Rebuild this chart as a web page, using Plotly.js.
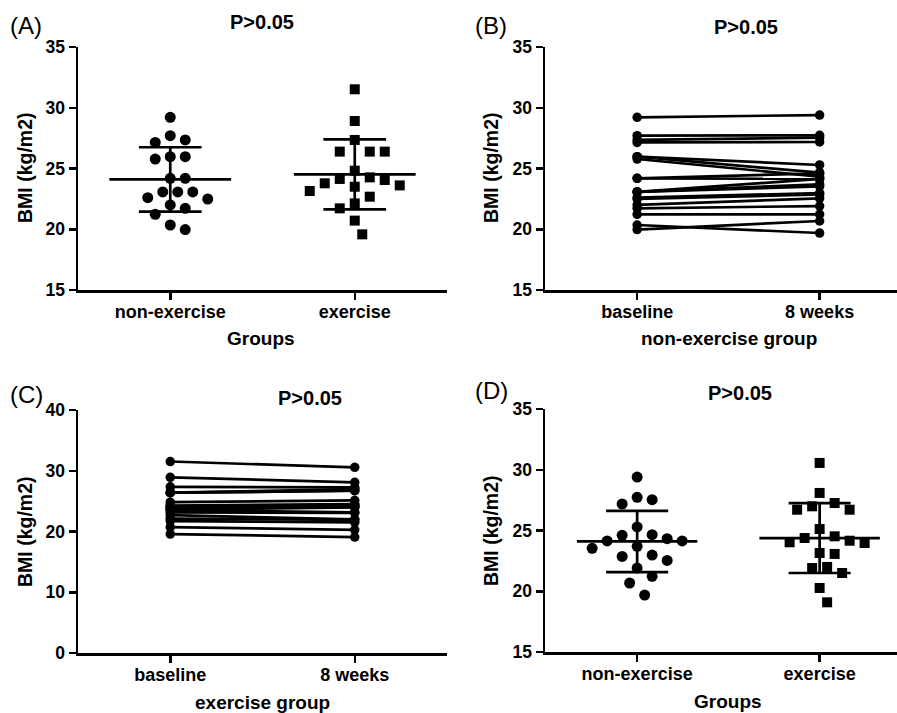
<!DOCTYPE html>
<html><head><meta charset="utf-8">
<script src="https://cdn.plot.ly/plotly-3.0.1.min.js"></script>
<style>html,body{margin:0;padding:0;background:#fff}</style>
</head><body><div id="chart" style="width:897px;height:713px"></div>
<script>
// ---------- data ----------
const groups = ["non-exercise", "exercise"];
const timepoints = ["baseline", "8 weeks"];
// non-exercise group BMI (kg/m2); pairs share an index
const nonExBaseline = [29.21, 27.70, 27.35, 27.15, 25.97, 25.97, 25.78, 24.19, 24.19, 23.07, 23.07, 23.07, 22.60, 22.49, 22.00, 21.72, 21.23, 20.35, 19.97];
const nonEx8w       = [29.40, 27.73, 27.54, 27.18, 25.29, 24.66, 24.33, 24.60, 24.14, 24.14, 23.70, 23.53, 22.98, 22.87, 22.54, 21.91, 21.23, 19.69, 20.68];
// exercise group BMI (kg/m2)
const exBaseline = [31.52, 28.91, 27.35, 26.39, 26.39, 26.39, 24.82, 24.27, 24.14, 24.05, 23.78, 23.61, 23.50, 23.15, 22.68, 22.13, 21.72, 20.71, 19.58];
const ex8w       = [30.56, 28.09, 27.26, 26.99, 26.71, 26.71, 25.12, 24.52, 24.38, 24.16, 24.03, 23.97, 23.15, 23.07, 22.00, 21.91, 21.50, 20.27, 19.09];
// mean and SD bars as drawn
const meanBaseline = [24.10, 24.52];
const sdBaseline   = [2.65, 2.88];
const mean8w = [24.10, 24.38];
const sd8w   = [2.52, 2.88];
const pLabel = "P>0.05";

// ---------- layout geometry ----------
const W = 897, H = 713;
const FONT = "Liberation Sans, Arial, Helvetica, sans-serif";
const px2x = p => p / W, px2y = p => 1 - p / H;
const dom = {
  A: {x: [78 / W, 447 / W], y: [px2y(290), px2y(47)], xr: [-0.5, 1.5], yr: [15, 35]},
  B: {x: [545 / W, 1], y: [px2y(290), px2y(47)], xr: [-0.505, 1.424], yr: [15, 35]},
  C: {x: [78 / W, 447 / W], y: [px2y(653), px2y(410)], xr: [-0.5, 1.5], yr: [0, 40]},
  D: {x: [545 / W, 1], y: [px2y(652), px2y(409)], xr: [-0.505, 1.424], yr: [15, 35]}
};

function swarm(vals, d) {
  const pxX = (d.x[1] - d.x[0]) * W / (d.xr[1] - d.xr[0]);
  const pxY = (d.y[1] - d.y[0]) * H / (d.yr[1] - d.yr[0]);
  const dia = 15, h = dia / 2;
  const order = vals.map((v, i) => i).sort((a, b) => vals[b] - vals[a]);
  const placed = [], off = new Array(vals.length);
  for (const i of order) {
    const y = vals[i] * pxY;
    for (let k = 0; k < 60; k++) {
      const c = k === 0 ? 0 : (k % 2 ? 1 : -1) * Math.ceil(k / 2) * h;
      const hit = placed.some(p => (p.x - c) ** 2 + (p.y - y) ** 2 < dia * dia - 0.01);
      if (!hit) { placed.push({x: c, y: y}); off[i] = c / pxX; break; }
    }
  }
  return off;
}

const traces = [];
function scatterPanel(ax, d, sets, means, sds) {
  sets.forEach((vals, g) => {
    const off = swarm(vals, d);
    traces.push({
      type: "scatter", mode: "markers", xaxis: "x" + ax, yaxis: "y" + ax,
      x: off.map(o => g + o), y: vals, showlegend: false, hoverinfo: "skip",
      marker: {symbol: g === 0 ? "circle" : "square", size: g === 0 ? 11 : 10, color: "#000", line: {width: 0}}
    });
    const m = means[g], s = sds[g], wM = 0.33, wS = 0.17;
    traces.push({
      type: "scatter", mode: "lines", xaxis: "x" + ax, yaxis: "y" + ax, showlegend: false, hoverinfo: "skip",
      x: [g - wM, g + wM, null, g - wS, g + wS, null, g - wS, g + wS, null, g, g],
      y: [m, m, null, m + s, m + s, null, m - s, m - s, null, m + s, m - s],
      line: {color: "#000", width: 2.7}
    });
  });
}
function pairedPanel(ax, before, after) {
  const x = [], y = [];
  before.forEach((b, i) => { x.push(0, 1, null); y.push(b, after[i], null); });
  traces.push({
    type: "scatter", mode: "lines+markers", xaxis: "x" + ax, yaxis: "y" + ax, showlegend: false, hoverinfo: "skip",
    x: x, y: y, connectgaps: false,
    line: {color: "#000", width: 2.7}, marker: {symbol: "circle", size: 9.5, color: "#000"}
  });
}
scatterPanel("", dom.A, [nonExBaseline, exBaseline], meanBaseline, sdBaseline);
pairedPanel("2", nonExBaseline, nonEx8w);
pairedPanel("3", exBaseline, ex8w);
scatterPanel("4", dom.D, [nonEx8w, ex8w], mean8w, sd8w);

function xAx(d, anchor, labels) {
  return {domain: d.x, range: d.xr, anchor: anchor, tickvals: [0, 1], ticktext: labels,
    showline: true, linecolor: "#000", linewidth: 2.5, ticks: "outside", ticklen: 7, tickwidth: 2.5, tickcolor: "#000",
    ticklabelstandoff: -3,
    showgrid: false, zeroline: false, tickfont: {family: FONT, size: 18, color: "#000", weight: "bold"}, fixedrange: true};
}
function yAx(d, anchor, vals) {
  return {domain: d.y, range: d.yr, anchor: anchor, tickvals: vals,
    showline: true, linecolor: "#000", linewidth: 2.5, ticks: "outside", ticklen: 7, tickwidth: 2.5, tickcolor: "#000",
    showgrid: false, zeroline: false, tickfont: {family: FONT, size: 17.5, color: "#000", weight: "bold"}, fixedrange: true};
}

function ann(text, x, y, size, bold, angle) {
  return {text: text, xref: "paper", yref: "paper", x: px2x(x), y: px2y(y), xanchor: "center", yanchor: "middle",
    showarrow: false, textangle: angle || 0, font: {family: FONT, size: size, color: "#000", weight: bold ? "bold" : "normal"}};
}
const annotations = [
  ann("(A)", 26, 25, 24, false), ann("(B)", 491, 25, 24, false),
  ann("(C)", 26, 395, 24, false), ann("(D)", 491, 391, 24, false),
  ann(pLabel, 262, 22, 20, true), ann(pLabel, 746, 27, 20, true),
  ann(pLabel, 310, 398, 20, true), ann(pLabel, 740, 393, 20, true),
  ann("BMI (kg/m2)", 25, 168, 19.5, true, -90), ann("BMI (kg/m2)", 491, 168, 19.5, true, -90),
  ann("BMI (kg/m2)", 25, 532, 19.5, true, -90), ann("BMI (kg/m2)", 491, 531, 19.5, true, -90),
  ann("Groups", 261, 338, 19, true), ann("non-exercise group", 729, 338, 19, true),
  ann("exercise group", 262, 702, 19, true), ann("Groups", 728, 701, 19, true)
];

const layout = {
  width: W, height: H, margin: {l: 0, r: 0, t: 0, b: 0},
  paper_bgcolor: "#fff", plot_bgcolor: "rgba(0,0,0,0)", showlegend: false,
  xaxis: xAx(dom.A, "y", groups), yaxis: yAx(dom.A, "x", [15, 20, 25, 30, 35]),
  xaxis2: xAx(dom.B, "y2", timepoints), yaxis2: yAx(dom.B, "x2", [15, 20, 25, 30, 35]),
  xaxis3: xAx(dom.C, "y3", timepoints), yaxis3: yAx(dom.C, "x3", [0, 10, 20, 30, 40]),
  xaxis4: xAx(dom.D, "y4", groups), yaxis4: yAx(dom.D, "x4", [15, 20, 25, 30, 35]),
  annotations: annotations
};
Plotly.newPlot("chart", traces, layout, {staticPlot: true, displayModeBar: false});
</script></body></html>
